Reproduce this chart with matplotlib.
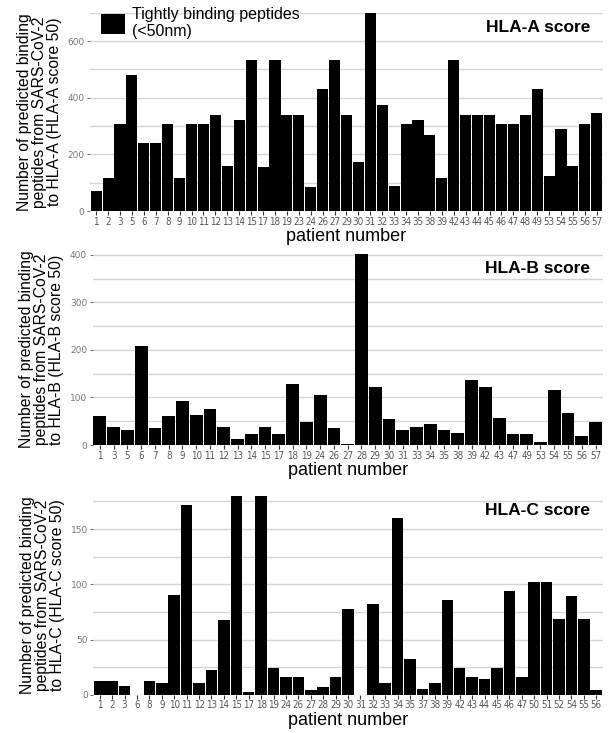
import matplotlib
matplotlib.use("Agg")
import matplotlib.pyplot as plt
from matplotlib.patches import Patch

# HLA-A panel
a_patients = ["1", "2", "3", "5", "6", "7", "8", "9", "10", "11", "12", "13", "14", "15",
              "17", "18", "19", "23", "24", "26", "27", "29", "30", "31", "32", "33", "34",
              "35", "38", "39", "42", "43", "44", "45", "46", "47", "48", "49", "53", "54",
              "55", "56", "57"]
a_values = [70, 116, 309, 482, 240, 240, 309, 116, 309, 309, 338, 158, 320, 534,
            155, 534, 338, 338, 84, 432, 534, 338, 172, 700, 376, 88, 309,
            320, 267, 116, 534, 338, 338, 338, 309, 309, 338, 432, 123, 288,
            158, 309, 345]

# HLA-B panel
b_patients = ["1", "3", "5", "6", "7", "8", "9", "10", "11", "12", "13", "14", "15", "17",
              "18", "19", "24", "26", "27", "28", "29", "30", "31", "33", "34", "35", "38",
              "39", "42", "43", "47", "49", "53", "54", "55", "56", "57"]
b_values = [61, 38, 32, 208, 36, 61, 93, 63, 76, 38, 13, 23, 38, 23,
            128, 48, 105, 36, 2, 402, 122, 55, 32, 38, 44, 32, 25,
            137, 122, 57, 23, 23, 6, 116, 67, 19, 48]

# HLA-C panel
c_patients = ["1", "2", "3", "6", "8", "9", "10", "11", "12", "13", "14", "15", "17", "18",
              "19", "24", "26", "27", "28", "29", "30", "31", "32", "33", "34", "35", "37",
              "38", "39", "42", "43", "44", "45", "46", "47", "50", "51", "52", "54", "55", "56"]
c_values = [12, 12, 8, 0, 12, 10.5, 90, 172, 10.5, 22, 68, 180, 2.5, 180,
            24, 16, 16, 4, 7, 16, 78, 0, 82, 10.5, 160, 32, 5,
            10.5, 86, 24, 16, 14, 24, 94, 16, 102, 102, 69, 89, 69, 4]

panels = [
    ("A", a_patients, a_values, 700, [0, 200, 400, 600], 100, [0.1475, 0.7121, 0.841, 0.2705]),
    ("B", b_patients, b_values, 402, [0, 100, 200, 300, 400], 50, [0.152, 0.3929, 0.836, 0.2606]),
    ("C", c_patients, c_values, 180, [0, 50, 100, 150], 25, [0.153, 0.0522, 0.835, 0.2712]),
]

fig = plt.figure(figsize=(6.1, 7.33), dpi=100)
plt.rcParams["font.family"] = ["Liberation Sans", "DejaVu Sans"]

for name, patients, values, top, yticks, gstep, pos in panels:
    ax = fig.add_axes(pos)
    x = list(range(len(patients)))

    # grid lines every half step, drawn under the bars
    g = 0
    while g <= top + 0.1:
        ax.axhline(g, color="#d4d4d4", lw=1.0, zorder=0)
        g += gstep

    ax.bar(x, values, width=0.93, color="black", zorder=2)

    ax.set_xlim(-0.52, len(patients) - 0.48)
    ax.set_ylim(0, top)
    ax.set_xticks(x)
    ax.set_xticklabels(patients, fontsize=7, color="#555555",
                       family="DejaVu Sans", fontstretch="condensed")
    ax.set_yticks(yticks)
    ax.set_yticklabels([str(t) for t in yticks], fontsize=6.5, color="#777777",
                       family="DejaVu Sans")
    ax.tick_params(axis="x", length=3, width=0.8, color="#333333", pad=1)
    ax.tick_params(axis="y", length=2, width=0.6, color="#555555", pad=2)
    for s in ax.spines.values():
        s.set_visible(False)

    ax.set_xlabel("patient number", fontsize=13, labelpad=1)
    ax.set_ylabel(f"Number of predicted binding\npeptides from SARS-CoV-2\nto HLA-{name} (HLA-{name} score 50)",
                  fontsize=11.3, linespacing=1.0, labelpad=4)
    ax.text(0.975, 0.965, f"HLA-{name} score", transform=ax.transAxes,
            ha="right", va="top", fontsize=12.5, fontweight="bold")

    if name == "A":
        ax.legend(handles=[Patch(facecolor="black", label="Tightly binding peptides\n(<50nm)")],
                  loc="upper left", bbox_to_anchor=(-0.001, 1.085), frameon=False,
                  fontsize=11.5, handlelength=1.55, handleheight=1.5, labelspacing=0,
                  handletextpad=0.4, borderpad=0.2)

fig.savefig("out.png", dpi=100)
